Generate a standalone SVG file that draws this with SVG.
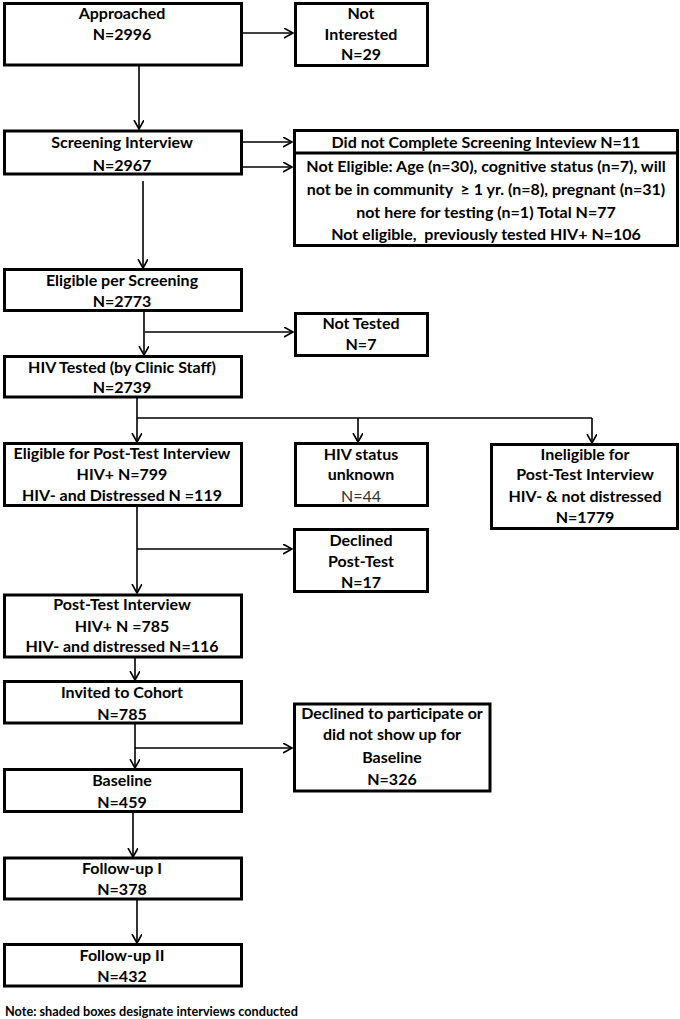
<svg xmlns="http://www.w3.org/2000/svg" width="680" height="1019" viewBox="0 0 680 1019">
<style>
.box{fill:#fff;stroke:#000;stroke-width:3}
.t{font-family:Lato,"Open Sans","Liberation Sans",sans-serif;font-weight:bold;font-size:16px;fill:#000;text-anchor:middle}
.n{font-weight:normal;fill:#333}
.c line{stroke:#000;stroke-width:1.6}
.a{marker-end:url(#ah)}
</style>
<defs>
<marker id="ah" markerUnits="userSpaceOnUse" markerWidth="12" markerHeight="12" refX="9" refY="5" orient="auto">
<path d="M0,0 L9,5 L0,10" fill="none" stroke="#000" stroke-width="1.6"/>
</marker>
</defs>
<rect width="680" height="1019" fill="#fff"/>
<g id="connectors" class="c">
<line class="a" x1="242" y1="33" x2="293" y2="33"/>
<line class="a" x1="139" y1="66" x2="139" y2="129"/>
<line class="a" x1="242" y1="142" x2="292" y2="142"/>
<line class="a" x1="242" y1="167" x2="292" y2="167"/>
<line class="a" x1="143" y1="181" x2="143" y2="268"/>
<line class="a" x1="144" y1="312" x2="144" y2="355"/>
<line class="a" x1="145" y1="332" x2="293" y2="332"/>
<line class="a" x1="137" y1="398" x2="137" y2="442"/>
<line x1="137" y1="418" x2="592" y2="418"/>
<line class="a" x1="358" y1="418" x2="358" y2="442"/>
<line class="a" x1="592" y1="418" x2="592" y2="443"/>
<line class="a" x1="137" y1="507" x2="137" y2="593"/>
<line class="a" x1="137" y1="549" x2="292" y2="549"/>
<line class="a" x1="135" y1="658" x2="135" y2="680"/>
<line class="a" x1="135" y1="724" x2="135" y2="768"/>
<line class="a" x1="135" y1="748" x2="292" y2="748"/>
<line class="a" x1="133" y1="813" x2="133" y2="857"/>
<line class="a" x1="137" y1="900" x2="137" y2="943"/>
</g>
<g id="approached"><rect class="box" x="4.5" y="3.5" width="237" height="61.5"/>
<text class="t" x="122" y="18.5">Approached</text><text class="t" x="122" y="39.5">N=2996</text></g>
<g id="not-interested"><rect class="box" x="295.5" y="3.5" width="132" height="62"/>
<text class="t" x="361" y="18.5">Not</text><text class="t" x="361" y="39.5">Interested</text><text class="t" x="361" y="59.5">N=29</text></g>
<g id="screening"><rect class="box" x="4.5" y="131" width="237" height="43"/>
<text class="t" x="122" y="147.5">Screening Interview</text><text class="t" x="122" y="170.5">N=2967</text></g>
<g id="screen-exclusions"><rect class="box" x="294.5" y="130.5" width="383" height="115"/>
<line x1="294.5" y1="153" x2="677.5" y2="153" stroke="#000" stroke-width="3"/>
<text class="t" x="486" y="147.5">Did not Complete Screening Inteview N=11</text>
<text class="t" x="486" y="171.5">Not Eligible: Age (n=30), cognitive status (n=7), will</text>
<text class="t" x="486" y="194.5" xml:space="preserve">not be in community  ≥ 1 yr. (n=8), pregnant (n=31)</text>
<text class="t" x="486" y="217.5">not here for testing (n=1) Total N=77</text>
<text class="t" x="486" y="239.5" xml:space="preserve">Not eligible,  previously tested HIV+ N=106</text></g>
<g id="eligible-screening"><rect class="box" x="4.5" y="269.5" width="237" height="41"/>
<text class="t" x="122" y="285.5">Eligible per Screening</text><text class="t" x="122" y="306.5">N=2773</text></g>
<g id="not-tested"><rect class="box" x="295.5" y="313.5" width="132" height="42"/>
<text class="t" x="361" y="328.5">Not Tested</text><text class="t" x="361" y="349.5">N=7</text></g>
<g id="hiv-tested"><rect class="box" x="4.5" y="356.5" width="237" height="40.5"/>
<text class="t" x="122" y="372.5">HIV Tested (by Clinic Staff)</text><text class="t" x="122" y="392.5">N=2739</text></g>
<g id="eligible-post"><rect class="box" x="4.5" y="443.5" width="237" height="62"/>
<text class="t" x="122" y="458.5">Eligible for Post-Test Interview</text><text class="t" x="122" y="479.5">HIV+ N=799</text><text class="t" x="122" y="500.5">HIV- and Distressed N =119</text></g>
<g id="hiv-unknown"><rect class="box" x="295.5" y="443.5" width="132" height="62"/>
<text class="t" x="361" y="459.5">HIV status</text><text class="t" x="361" y="479.5">unknown</text><text class="t n" x="361" y="501.5">N=44</text></g>
<g id="ineligible"><rect class="box" x="491.5" y="444.5" width="186" height="84"/>
<text class="t" x="585" y="459.5">Ineligible for</text><text class="t" x="585" y="479.5">Post-Test Interview</text><text class="t" x="585" y="501.5">HIV- &amp; not distressed</text><text class="t" x="585" y="522.5">N=1779</text></g>
<g id="declined-post"><rect class="box" x="294.5" y="529.5" width="133" height="62"/>
<text class="t" x="361" y="545.5">Declined</text><text class="t" x="361" y="566.5">Post-Test</text><text class="t" x="361" y="587.5">N=17</text></g>
<g id="post-test"><rect class="box" x="4.5" y="595" width="237" height="62"/>
<text class="t" x="122" y="609.5">Post-Test Interview</text><text class="t" x="122" y="631.5">HIV+ N =785</text><text class="t" x="122" y="651.5">HIV- and distressed N=116</text></g>
<g id="invited"><rect class="box" x="4.5" y="681.5" width="237" height="41.5"/>
<text class="t" x="122" y="697.5">Invited to Cohort</text><text class="t" x="122" y="719.5">N=785</text></g>
<g id="declined-participate"><rect class="box" x="294.5" y="704" width="195.5" height="87"/>
<text class="t" x="392" y="718.5">Declined to participate or</text><text class="t" x="392" y="739.5">did not show up for</text><text class="t" x="392" y="762.5">Baseline</text><text class="t" x="392" y="784.5">N=326</text></g>
<g id="baseline"><rect class="box" x="4.5" y="769.5" width="237" height="42"/>
<text class="t" x="122" y="785.5">Baseline</text><text class="t" x="122" y="807.5">N=459</text></g>
<g id="followup1"><rect class="box" x="4.5" y="858" width="237" height="41"/>
<text class="t" x="122" y="873.5">Follow-up I</text><text class="t" x="122" y="894.5">N=378</text></g>
<g id="followup2"><rect class="box" x="4.5" y="944.5" width="237" height="41.5"/>
<text class="t" x="122" y="960.5">Follow-up II</text><text class="t" x="122" y="981.5">N=432</text></g>
<text class="t" x="5" y="1016" style="text-anchor:start;font-size:12.7px">Note: shaded boxes designate interviews conducted</text>
</svg>
